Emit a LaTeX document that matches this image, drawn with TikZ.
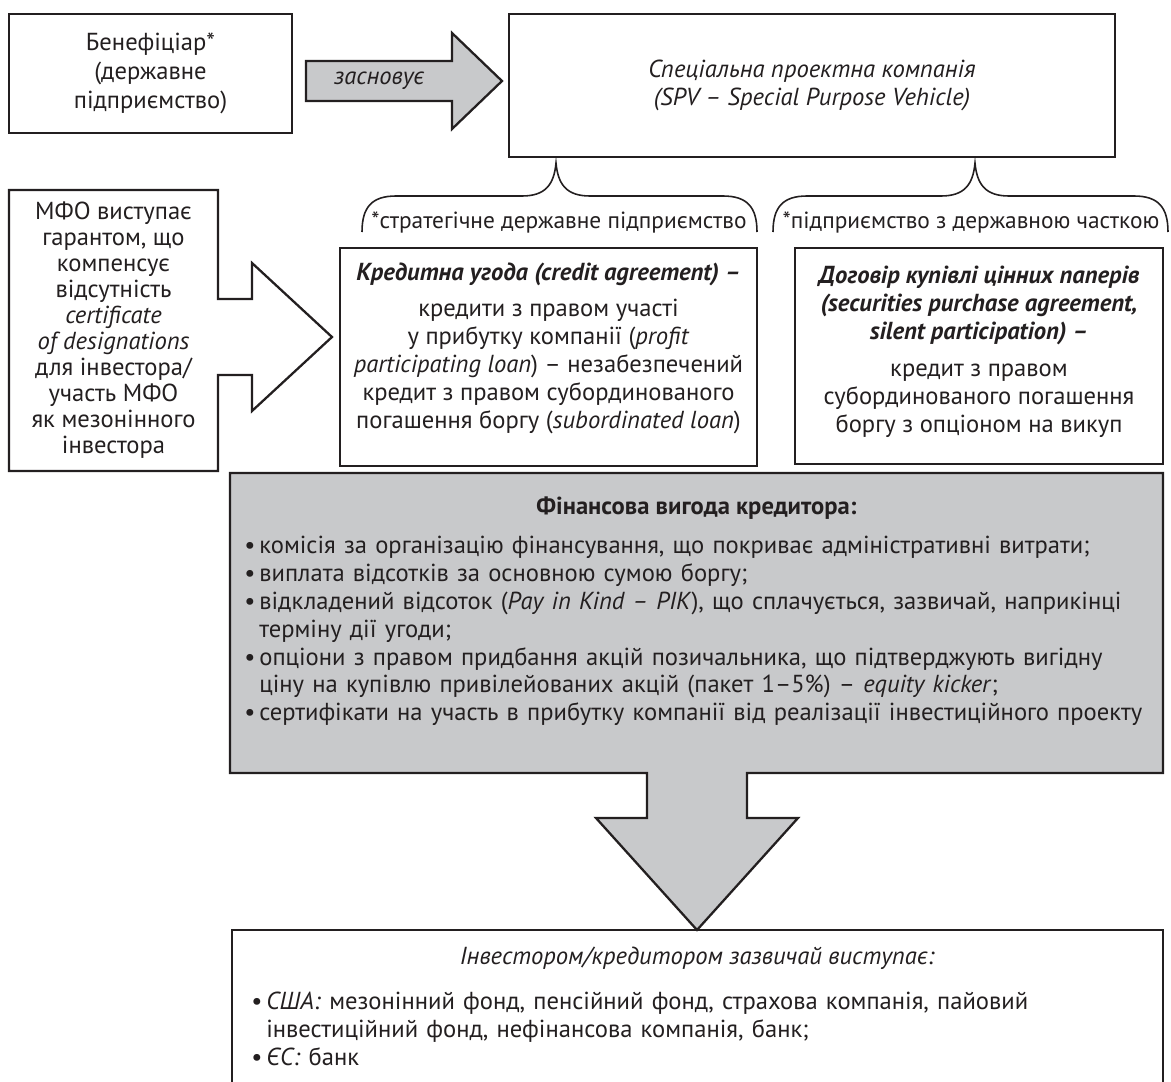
\documentclass[tikz,border=0pt]{standalone}
\usepackage{fontspec}
\setmainfont{PT Sans}
\definecolor{ink}{HTML}{231F20}
\definecolor{panel}{HTML}{C8C9CB}
\newcommand{\basefont}{\fontsize{14}{15.9}\selectfont}
\newcommand{\gitem}[1]{\par\noindent\hangindent=0.3cm\hangafter=1\makebox[0.3cm][l]{\textbullet}#1}

\begin{document}
\begin{tikzpicture}[x=0.02cm, y=-0.02cm,
  every node/.style={font=\basefont, text=ink, inner sep=0pt},
  box/.style={draw=ink, line width=1.3pt, fill=white},
  fat/.style={draw=ink, line width=1.3pt, fill=panel},
  brace/.style={draw=ink, line width=0.9pt},
  bracelabel/.style={font=\fontsize{13.3}{15.9}\selectfont},
  txt/.style={align=center}]
\useasboundingbox (0,0) rectangle (1171,1082);

\node[box, txt, font=\fontsize{14}{16.5}\selectfont, minimum width=5.66cm, minimum height=2.38cm] (benef) at (150.5,73.5) {Бенефіціар*\\(державне\\підприємство)};
\draw[fat] (306,61) -- (452,61) -- (452,33) -- (502,81) -- (452,129) -- (452,101) -- (306,101) -- cycle;
\node[font=\basefont\itshape] (found) at (379,81) {засновує};
\node[box, txt, font=\basefont\itshape, minimum width=12.12cm, minimum height=2.86cm] (spv) at (812,85.5) {Спеціальна проектна компанія\\(SPV -- Special Purpose Vehicle)};

\draw[brace] (362,232) .. controls (362,207) and (372,196) .. (396,196) -- (522,196) .. controls (545,196) and (554,185) .. (556,163) .. controls (558,185) and (567,196) .. (590,196) -- (723,196) .. controls (747,196) and (757,207) .. (757,232);
\draw[brace] (773,232) .. controls (773,207) and (783,196) .. (807,196) -- (941,196) .. controls (964,196) and (973,185) .. (975,163) .. controls (977,185) and (986,196) .. (1009,196) -- (1134,196) .. controls (1158,196) and (1168,207) .. (1168,232);
\node[bracelabel] (strat) at (559,222) {*стратегічне державне підприємство};
\node[bracelabel] (share) at (971,222) {*підприємство з державною часткою};

\draw[box] (218,190) -- (9,190) -- (9,471) -- (218,471) -- (218,375) -- (252,375) -- (252,411) -- (332,337) -- (252,263) -- (252,299) -- (218,299) -- cycle;
\node[txt, font=\fontsize{14}{14.8}\selectfont] (mfo) at (113.5,330) {МФО виступає\\гарантом, що\\компенсує\\відсутність\\\textit{certificate}\\\textit{of designations}\\для інвестора/\\участь МФО\\як мезонінного\\інвестора};

\node[box, minimum width=8.34cm, minimum height=4.36cm] (credit) at (548.5,357) {};
\node[txt, anchor=north] (credittext) at (548.5,262) {{\bfseries\itshape Кредитна угода (credit agreement) --}\\[5pt]
  кредити з правом участі\\у прибутку компанії (\textit{profit}\\\textit{participating loan}) -- незабезпечений\\кредит з правом субординованого\\погашення боргу (\textit{subordinated loan})};
\node[box, minimum width=7.36cm, minimum height=4.32cm] (secur) at (979,356) {};
\node[txt, anchor=north] (securtext) at (979,266) {\textbf{\textit{Договір купівлі цінних паперів}}\\\textbf{\textit{(securities purchase agreement,}}\\\textbf{\textit{silent participation) --}}\\[5pt]
  кредит з правом\\субординованого погашення\\боргу з опціоном на викуп};

\draw[fat] (230,473) -- (1163,473) -- (1163,773) -- (747,773) -- (747,818) -- (798,818) -- (697,930) -- (596,818) -- (647,818) -- (647,773) -- (230,773) -- cycle;
\node[font=\basefont\bfseries] (gainhead) at (696.5,508) {Фінансова вигода кредитора:};
\node[anchor=north west, text width=18.6cm] (gainlist) at (244,525) {%
  \gitem{комісія за організацію фінансування, що покриває адміністративні витрати;}
  \gitem{виплата відсотків за основною сумою боргу;}
  \gitem{відкладений відсоток (\textit{Pay in Kind -- PIK}), що сплачується, зазвичай, наприкінці\newline терміну дії угоди;}
  \gitem{опціони з правом придбання акцій позичальника, що підтверджують вигідну\newline ціну на купівлю привілейованих акцій (пакет 1--5\%) -- \textit{equity kicker};}
  \gitem{сертифікати на участь в прибутку компанії від реалізації інвестиційного проекту}};

\draw[ink, line width=1.3pt] (232,1090) -- (232,930) -- (1163,930) -- (1163,1090);
\node[font=\basefont\itshape] (invhead) at (697,958) {Інвестором/кредитором зазвичай виступає:};
\node[anchor=north west, text width=18cm] (invlist) at (251,981) {%
  \gitem{\textit{США:} мезонінний фонд, пенсійний фонд, страхова компанія, пайовий\newline інвестиційний фонд, нефінансова компанія, банк;}
  \gitem{\textit{ЄС:} банк}};
\end{tikzpicture}
\end{document}
